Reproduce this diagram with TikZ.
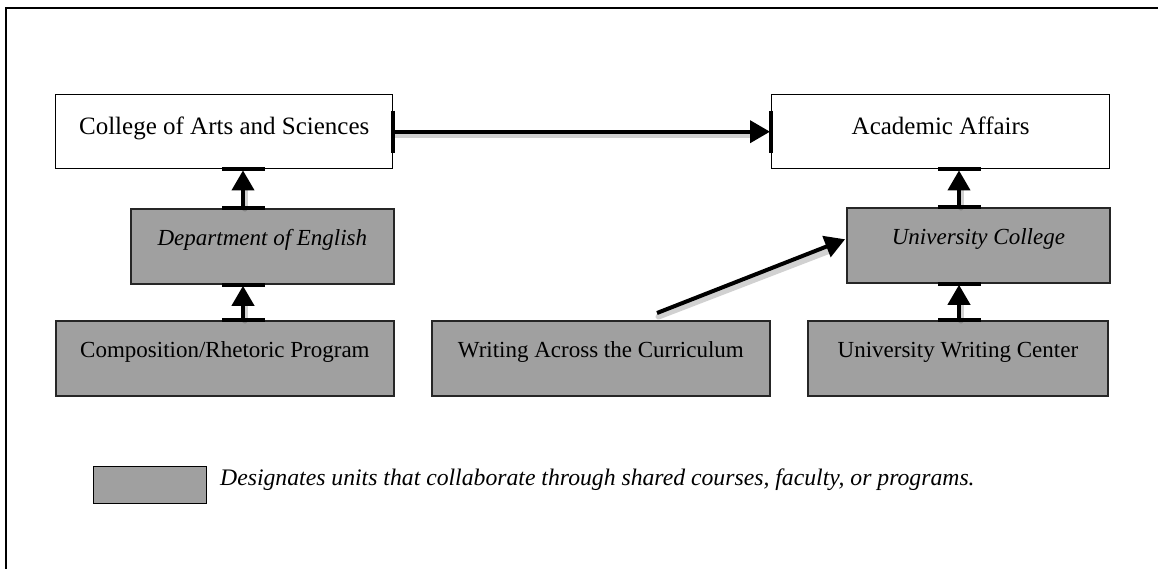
\documentclass[tikz,border=0pt]{standalone}
\usepackage{fontspec}
\setmainfont{Liberation Serif}
\usetikzlibrary{arrows.meta}
\definecolor{unitgray}{HTML}{A0A0A0}
\begin{document}
\begin{tikzpicture}[x=1pt,y=-1pt,
  topbox/.style={draw=black,line width=1.4pt,fill=white,inner sep=0pt,anchor=north west,
     text height=40pt,text depth=34pt,align=center,font=\fontsize{25}{28}\selectfont},
  unitbox/.style={draw=black!85,line width=1.8pt,fill=unitgray,inner sep=0pt,anchor=north west,
     text height=37pt,text depth=38pt,align=center,font=\fontsize{23}{26}\selectfont},
  arr/.style={line width=4pt,-{Triangle[length=20pt,width=22pt]},shorten >=1pt},
  shad/.style={line width=6pt,draw=black,opacity=0.18,line cap=round,
     transform canvas={shift={(1.5pt,-3.5pt)}}},
  tick/.style={line width=4pt,draw=black}]
\useasboundingbox (0,0) rectangle (1158,568);
\fill[white] (0,0) rectangle (1158,568);
\draw[line width=2.6pt] (6,575) -- (6,8) -- (1165,8);

\node[topbox,minimum width=337pt] (coll) at (55,94) {College of Arts and Sciences};
\node[topbox,minimum width=338pt] (acad) at (771,94) {Academic Affairs};
\node[unitbox,minimum width=263pt] (dept) at (130,208) {\itshape Department of English};
\node[unitbox,minimum width=263pt] (ucol) at (846,207) {\itshape University College};
\node[unitbox,minimum width=338pt] (comp) at (55,320) {Composition/Rhetoric Program};
\node[unitbox,minimum width=338pt] (wac) at (431,320) {Writing Across the Curriculum};
\node[unitbox,minimum width=300pt] (uwc) at (807,320) {University Writing Center};

% shadows
\draw[shad] (coll.east) -- ([xshift=-18pt]acad.west);
\draw[shad] ([xshift=226pt,yshift=7pt]wac.north west) -- ([xshift=-16pt,yshift=-1pt]ucol.west);
\draw[shad] ([yshift=3pt]dept.north -| 243,0) -- ([yshift=-16pt]coll.south -| 243,0);
\draw[shad] ([yshift=3pt]comp.north -| 243,0) -- ([yshift=-16pt]dept.south -| 243,0);
\draw[shad] ([yshift=3pt]ucol.north -| 959,0) -- ([yshift=-16pt]acad.south -| 959,0);
\draw[shad] ([yshift=3pt]uwc.north -| 959,0) -- ([yshift=-16pt]ucol.south -| 959,0);

% arrows
\draw[arr] (coll.east) -- (acad.west);
\draw[arr] ([xshift=226pt,yshift=7pt]wac.north west) -- ([yshift=6.5pt]ucol.west);
\draw[arr] (dept.north -| 243,0) -- (coll.south -| 243,0);
\draw[arr] (comp.north -| 243,0) -- (dept.south -| 243,0);
\draw[arr] (ucol.north -| 959,0) -- (acad.south -| 959,0);
\draw[arr] (uwc.north -| 959,0) -- (ucol.south -| 959,0);

% ticks
\draw[tick] ([yshift=21pt]coll.east) -- ([yshift=-21pt]coll.east);
\draw[tick] ([yshift=21pt]acad.west) -- ([yshift=-21pt]acad.west);
\draw[tick] (coll.south -| 222,0) -- (coll.south -| 265,0);
\draw[tick] (dept.north -| 222,0) -- (dept.north -| 265,0);
\draw[tick] (dept.south -| 222,0) -- (dept.south -| 265,0);
\draw[tick] (comp.north -| 222,0) -- (comp.north -| 265,0);
\draw[tick] (acad.south -| 938,0) -- (acad.south -| 981,0);
\draw[tick] (ucol.north -| 938,0) -- (ucol.north -| 981,0);
\draw[tick] (ucol.south -| 938,0) -- (ucol.south -| 981,0);
\draw[tick] (uwc.north -| 938,0) -- (uwc.north -| 981,0);

% legend
\node[draw=black,line width=1.4pt,fill=unitgray,anchor=north west,minimum width=113pt,minimum height=37pt,inner sep=0pt] (leg) at (93,466) {};
\node[anchor=base west,inner sep=0pt,font=\fontsize{23.7}{28}\selectfont\itshape] (legtxt) at (220,485) {Designates units that collaborate through shared courses, faculty, or programs.};
\end{tikzpicture}
\end{document}
